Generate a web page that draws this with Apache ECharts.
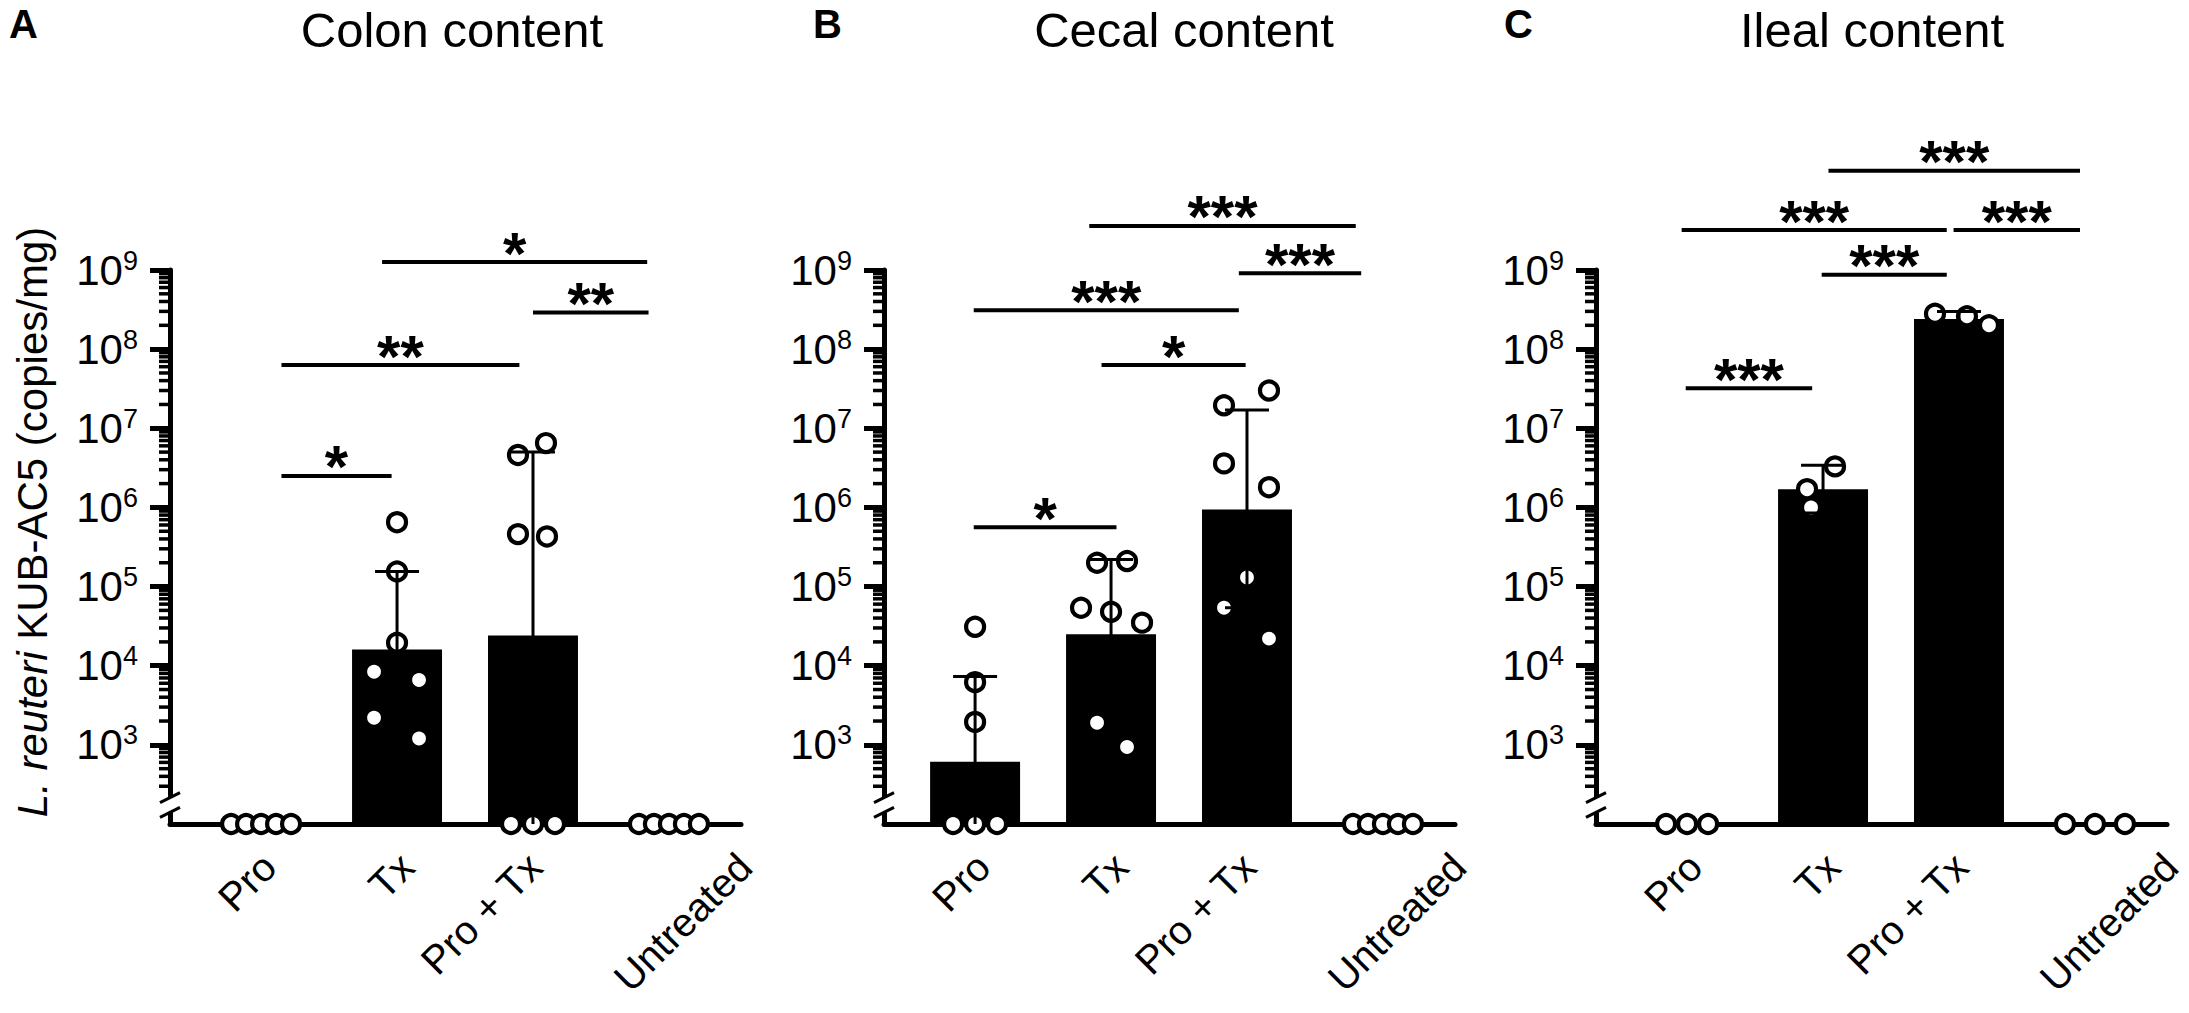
<!DOCTYPE html>
<html><head><meta charset="utf-8">
<script src="https://cdn.jsdelivr.net/npm/echarts@6/dist/echarts.min.js"></script>
<style>html,body{margin:0;padding:0;background:#fff}#c{width:2189px;height:1013px}</style>
</head><body><div id="c"></div>
<script>
// ---------------- data ----------------
const categories = ['Pro', 'Tx', 'Pro + Tx', 'Untreated'];
const panelTitles = ['Colon content', 'Cecal content', 'Ileal content'];
const panelLetters = ['A', 'B', 'C'];
const yAxisTitle = '{i|L. reuteri} KUB-AC5 (copies/mg)';
const yTickValues = [1e3, 1e4, 1e5, 1e6, 1e7, 1e8, 1e9];
const minorMultipliers = [2, 3, 4, 5, 6, 7, 8, 9];

// Colon content (A)
const colonMean    = [0, 1.6e4, 2.4e4, 0];
const colonErrHigh = [0, 1.55e5, 5.0e6, 0];
const colonErrLow  = [0, 1.6e3, 0, 0];
const colonPoints  = [
  [0, 0, 0, 0, 0],
  [6.5e5, 1.55e5, 1.95e4, 8.4e3, 6.6e3, 2.2e3, 1.2e3],
  [6.5e6, 4.6e6, 4.6e5, 4.3e5, 0, 0, 0],
  [0, 0, 0, 0, 0]
];
const colonSigX1 = [0.15, 0.15, 0.89, 2.0];
const colonSigX2 = [0.96, 1.90, 2.84, 2.85];
const colonSigY  = [2.5e6, 6.3e7, 1.26e9, 2.9e8];
const colonSigLabel = ['*', '**', '*', '**'];

// Cecal content (B)
const cecalMean    = [610, 2.5e4, 9.4e5, 0];
const cecalErrHigh = [7.3e3, 2.2e5, 1.7e7, 0];
const cecalErrLow  = [0, 2.9e3, 5.4e4, 0];
const cecalPoints  = [
  [3.1e4, 6.2e3, 1.95e3, 0, 0, 0],
  [2.0e5, 2.1e5, 5.4e4, 4.8e4, 3.5e4, 1.9e3, 940],
  [3.0e7, 1.95e7, 3.6e6, 1.8e6, 1.3e5, 5.4e4, 2.2e4],
  [0, 0, 0, 0, 0]
];
const cecalSigX1 = [-0.01, 0.93, -0.01, 1.94, 0.84];
const cecalSigX2 = [1.04, 1.99, 1.94, 2.84, 2.80];
const cecalSigY  = [5.6e5, 6.3e7, 3.1e8, 9.1e8, 3.6e9];
const cecalSigLabel = ['*', '*', '***', '***', '***'];

// Ileal content (C)
const ilealMean    = [0, 1.7e6, 2.4e8, 0];
const ilealErrHigh = [0, 3.4e6, 3.0e8, 0];
const ilealErrLow  = [0, 8.5e5, 1.9e8, 0];
const ilealPoints  = [
  [0, 0, 0],
  [3.3e6, 1.7e6, 1.0e6],
  [2.8e8, 2.6e8, 2.0e8],
  [0, 0, 0]
];
const ilealSigX1 = [-0.01, 0.99, -0.04, 1.96, 1.04];
const ilealSigX2 = [0.92, 1.91, 1.91, 2.89, 2.89];
const ilealSigY  = [3.2e7, 8.7e8, 3.2e9, 3.2e9, 1.8e10];
const ilealSigLabel = ['***', '***', '***', '***', '***'];

// ---------------- layout / style ----------------
const FONT = '"Liberation Sans", Arial, Helvetica, sans-serif';
const Y_FLOOR = 100, Y_MAX = 1e9;
const X_MIN = -0.67, X_MAX = 3.53;
const CAT_PX = 136;
const BAR_HALF = 45 / CAT_PX;
const CAP_HALF = 22 / CAT_PX;
const BREAK_RANGE = [140, 215];
const panelLefts = [170, 884, 1596];
const GRID_TOP = 270, GRID_H = 554, GRID_W = 571;
const titleCenters = [452, 1184, 1872];
const letterLefts = [9, 813, 1504];
const xLabelShift = [8, 10, 2, 76];   // px, horizontal nudge of each rotated category label
// horizontal spread of dots (px) inside each group
const colonSpread = [[-30,-15,0,15,30],[0,0,0,-23,22,-23,22],[13,-15,-15,14,-22,0,22],[-30,-15,0,15,30]];
const cecalSpread = [[0,0,0,-22,0,22],[-14,16,-30,0,31,-14,16],[22,-23,-23,22,0,-23,22],[-30,-15,0,15,30]];
const ilealSpread = [[-21,0,21],[12,-16,-12],[-24,8,30],[-30,0,30]];

const panels = [
  {mean: colonMean, hi: colonErrHigh, lo: colonErrLow, pts: colonPoints, spread: colonSpread,
   sig: [colonSigX1, colonSigX2, colonSigY], sigLabel: colonSigLabel},
  {mean: cecalMean, hi: cecalErrHigh, lo: cecalErrLow, pts: cecalPoints, spread: cecalSpread,
   sig: [cecalSigX1, cecalSigX2, cecalSigY], sigLabel: cecalSigLabel},
  {mean: ilealMean, hi: ilealErrHigh, lo: ilealErrLow, pts: ilealPoints, spread: ilealSpread,
   sig: [ilealSigX1, ilealSigX2, ilealSigY], sigLabel: ilealSigLabel}
];

const minorTicks = [];
for (let e = 2; e <= 8; e++) minorMultipliers.forEach(m => minorTicks.push(m * Math.pow(10, e)));

function renderBar(params, api) {
  const i = api.value(0), v = api.value(1);
  const a = api.coord([i - BAR_HALF, v]);
  const b = api.coord([i + BAR_HALF, Y_FLOOR]);
  return {type: 'rect', shape: {x: a[0], y: a[1], width: b[0] - a[0], height: b[1] - a[1]}, style: {fill: '#000'}};
}
function renderErr(params, api) {
  const i = api.value(0), lo = api.value(1), hi = api.value(2), hasLo = api.value(3);
  const pHi = api.coord([i, hi]);
  const pLo = api.coord([i, lo]);
  const half = api.coord([i + CAP_HALF, hi])[0] - pHi[0];
  const st = {stroke: '#000', lineWidth: 3};
  const ch = [
    {type: 'line', shape: {x1: pHi[0], y1: pHi[1], x2: pLo[0], y2: pLo[1]}, style: st},
    {type: 'line', shape: {x1: pHi[0] - half, y1: pHi[1], x2: pHi[0] + half, y2: pHi[1]}, style: st}
  ];
  if (hasLo) ch.push({type: 'line', shape: {x1: pLo[0] - half, y1: pLo[1], x2: pLo[0] + half, y2: pLo[1]}, style: st});
  return {type: 'group', children: ch};
}
function makeSigRenderer(labels) {
  return function (params, api) {
    const x1 = api.value(0), x2 = api.value(1), y = api.value(2);
    const p1 = api.coord([x1, y]), p2 = api.coord([x2, y]);
    return {type: 'group', children: [
      {type: 'line', shape: {x1: p1[0], y1: p1[1], x2: p2[0], y2: p2[1]}, style: {stroke: '#000', lineWidth: 4}},
      {type: 'text', x: (p1[0] + p2[0]) / 2, y: p1[1] - 9,
       style: {text: labels[params.dataIndex], fill: '#000', font: 'bold 60px ' + FONT, align: 'center', verticalAlign: 'middle'}}
    ]};
  };
}
function renderMinorTick(params, api) {
  const p = api.coord([X_MIN, api.value(1)]);
  return {type: 'line', shape: {x1: p[0] - 11, y1: p[1], x2: p[0], y2: p[1]}, style: {stroke: '#000', lineWidth: 3.5}};
}
function renderXLabel(params, api) {
  const i = api.value(0);
  const p = api.coord([i, Y_FLOOR]);
  return {type: 'text', x: p[0] + xLabelShift[i], y: p[1] + 36, rotation: Math.PI / 4,
    style: {text: categories[i], fill: '#000', font: '40px ' + FONT, align: 'right', verticalAlign: 'middle'}};
}
function renderBreak(params, api) {
  const t = api.coord([X_MIN, api.value(2)]), b = api.coord([X_MIN, api.value(1)]);
  const x = t[0];
  const st = {stroke: '#000', lineWidth: 3};
  return {type: 'group', children: [
    {type: 'rect', shape: {x: x - 14, y: t[1], width: 20, height: b[1] - t[1]}, style: {fill: '#fff'}},
    {type: 'line', shape: {x1: x - 10, y1: t[1] + 5, x2: x + 10, y2: t[1] - 5}, style: st},
    {type: 'line', shape: {x1: x - 10, y1: b[1] + 5, x2: x + 10, y2: b[1] - 5}, style: st}
  ]};
}

const grid = [], xAxis = [], yAxis = [], series = [], graphic = [];
panels.forEach((P, p) => {
  grid.push({left: panelLefts[p], top: GRID_TOP, width: GRID_W, height: GRID_H, containLabel: false, outerBoundsMode: 'none'});
  xAxis.push({
    type: 'value', gridIndex: p, min: X_MIN, max: X_MAX,
    axisLine: {show: true, onZero: false, lineStyle: {color: '#000', width: 5}},
    axisTick: {show: false}, splitLine: {show: false}, minorTick: {show: false},
    axisLabel: {show: false}
  });
  const major = {
    type: 'log', logBase: 10, gridIndex: p, min: Y_FLOOR, max: Y_MAX, position: 'left',
    axisLine: {show: true, onZero: false, lineStyle: {color: '#000', width: 5}},
    axisTick: {show: true, customValues: yTickValues, length: 20, lineStyle: {color: '#000', width: 5}},
    axisLabel: {show: true, customValues: yTickValues, margin: 32, color: '#000',
      formatter: v => '{b|10}{s|' + Math.round(Math.log10(v)) + '}',
      rich: {b: {fontSize: 42, fontFamily: FONT, color: '#000', lineHeight: 46},
             s: {fontSize: 27, fontFamily: FONT, color: '#000', verticalAlign: 'top', lineHeight: 27}}},
    splitLine: {show: false}, minorTick: {show: false}
  };
  if (p === 0) {
    major.name = yAxisTitle;
    major.nameLocation = 'middle';
    major.nameGap = 117;
    major.nameTextStyle = {fontSize: 42, fontFamily: FONT, color: '#000', padding: [0, 0, 0, 50],
      rich: {i: {fontStyle: 'italic', fontSize: 42, fontFamily: FONT, color: '#000'}}};
  }
  yAxis.push(major);
  const yi = p;
  // minor log ticks
  series.push({type: 'custom', xAxisIndex: p, yAxisIndex: yi, clip: false, z: 1, silent: true,
    renderItem: renderMinorTick, data: minorTicks.map(v => [X_MIN, v])});
  // category labels
  series.push({type: 'custom', xAxisIndex: p, yAxisIndex: yi, clip: false, z: 1, silent: true,
    renderItem: renderXLabel, data: categories.map((c, i) => [i, Y_FLOOR])});
  // bars
  series.push({type: 'custom', xAxisIndex: p, yAxisIndex: yi, clip: false, z: 2, silent: true,
    renderItem: renderBar,
    data: P.mean.map((v, i) => [i, v]).filter(d => d[1] > 0)});
  // dots
  const dots = [];
  P.pts.forEach((arr, i) => arr.forEach((v, k) => dots.push([i + P.spread[i][k] / CAT_PX, v > 0 ? v : Y_FLOOR])));
  series.push({type: 'scatter', xAxisIndex: p, yAxisIndex: yi, clip: false, z: 3, silent: true,
    symbol: 'circle', symbolSize: 18,
    itemStyle: {color: '#fff', borderColor: '#000', borderWidth: 4.2, opacity: 1},
    data: dots});
  // error bars
  const errs = [];
  P.mean.forEach((v, i) => {
    if (P.hi[i] > 0) errs.push([i, P.lo[i] > Y_FLOOR ? P.lo[i] : Y_FLOOR, P.hi[i], P.lo[i] > Y_FLOOR ? 1 : 0]);
  });
  series.push({type: 'custom', xAxisIndex: p, yAxisIndex: yi, clip: false, z: 4, silent: true,
    renderItem: renderErr, data: errs});
  // significance bars
  series.push({type: 'custom', xAxisIndex: p, yAxisIndex: yi, clip: false, z: 5, silent: true,
    renderItem: makeSigRenderer(P.sigLabel),
    data: P.sig[0].map((x1, k) => [x1, P.sig[1][k], P.sig[2][k]])});
  // axis break
  series.push({type: 'custom', xAxisIndex: p, yAxisIndex: yi, clip: false, z: 6, silent: true,
    renderItem: renderBreak, data: [[X_MIN, BREAK_RANGE[0], BREAK_RANGE[1]]]});

  graphic.push({type: 'text', x: titleCenters[p], y: 30, silent: true,
    style: {text: panelTitles[p], fill: '#000', font: '49px ' + FONT, align: 'center', verticalAlign: 'middle'}});
  graphic.push({type: 'text', x: letterLefts[p], y: 24, silent: true,
    style: {text: panelLetters[p], fill: '#000', font: 'bold 40px ' + FONT, align: 'left', verticalAlign: 'middle'}});
});

const chart = echarts.init(document.getElementById('c'), null, {renderer: 'svg', width: 2189, height: 1013});
chart.setOption({
  backgroundColor: '#fff',
  animation: false,
  grid, xAxis, yAxis, series, graphic
});
</script>
</body></html>
